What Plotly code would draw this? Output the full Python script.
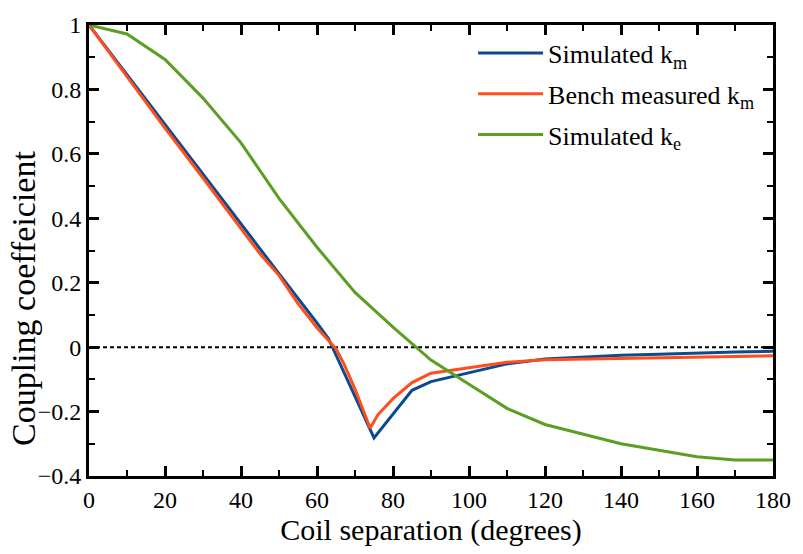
import plotly.graph_objects as go

# Simulated k_m
sim_km_x = [0, 10, 20, 30, 40, 50, 60, 63, 75, 85, 90, 100, 110, 120, 130, 140, 150, 160, 170, 180]
sim_km_y = [1.0, 0.845, 0.69, 0.535, 0.38, 0.228, 0.075, 0.027, -0.282, -0.134, -0.107, -0.08, -0.052,
            -0.037, -0.03, -0.025, -0.022, -0.018, -0.015, -0.013]

# Bench measured k_m
bench_km_x = [0, 10, 20, 30, 40, 45, 50, 55, 60, 65, 67, 70, 74, 76, 80, 85, 90, 100, 110, 120, 140, 160, 180]
bench_km_y = [1.0, 0.84, 0.68, 0.525, 0.37, 0.29, 0.223, 0.135, 0.06, -0.005, -0.05, -0.13, -0.252, -0.21,
              -0.16, -0.11, -0.081, -0.065, -0.047, -0.039, -0.035, -0.03, -0.027]

# Simulated k_e
sim_ke_x = [0, 10, 20, 30, 40, 50, 60, 70, 80, 90, 100, 110, 120, 130, 140, 150, 160, 170, 180]
sim_ke_y = [1.0, 0.972, 0.893, 0.773, 0.634, 0.462, 0.31, 0.17, 0.062, -0.04, -0.115, -0.19, -0.24,
            -0.27, -0.30, -0.32, -0.34, -0.35, -0.35]

names = ["Simulated k<sub>m</sub>", "Bench measured k<sub>m</sub>", "Simulated k<sub>e</sub>"]
colors = ["#0c4a8f", "#ff4d1c", "#5a9f24"]

x_title = "Coil separation (degrees)"
y_title = "Coupling coeffeicient"

FONT = "Liberation Serif"

fig = go.Figure()
for i, (xs, ys, nm, c) in enumerate(zip([sim_km_x, bench_km_x, sim_ke_x], [sim_km_y, bench_km_y, sim_ke_y], names, colors)):
    fig.add_trace(go.Scatter(x=xs, y=ys, mode="lines", name=nm, legendgroup=f"g{i}",
                             line=dict(color=c, width=3)))

fig.add_shape(type="line", xref="paper", x0=0, x1=1, yref="y", y0=0, y1=0,
              line=dict(color="black", width=2, dash="4px,3px"), layer="below")

axis_common = dict(
    showline=True, linecolor="black", linewidth=3, mirror="ticks",
    ticks="inside", ticklen=10, tickwidth=3, tickcolor="black",
    showgrid=False, zeroline=False,
    tickfont=dict(family=FONT, size=24, color="black"),
)

fig.update_xaxes(range=[0, 180], tick0=0, dtick=20,
                 minor=dict(ticks="inside", dtick=10, ticklen=6, tickwidth=2, tickcolor="black"),
                 title=dict(text=x_title, font=dict(family=FONT, size=30, color="black"), standoff=6),
                 **axis_common)
fig.update_yaxes(range=[-0.4, 1], tick0=-0.4, dtick=0.2,
                 minor=dict(ticks="inside", dtick=0.1, ticklen=6, tickwidth=2, tickcolor="black"),
                 **axis_common)

fig.add_annotation(text=y_title, xref="paper", yref="paper", x=-0.0955, y=0.394,
                   xanchor="center", yanchor="middle", textangle=-90, showarrow=False,
                   font=dict(family=FONT, size=34, color="black"))

fig.update_layout(
    width=803, height=554,
    margin=dict(l=89, r=23, t=14, b=78),
    paper_bgcolor="white", plot_bgcolor="white",
    showlegend=True,
    legend=dict(x=0.5615, y=0.99, xanchor="left", yanchor="top",
                font=dict(family=FONT, size=26, color="black"),
                bgcolor="rgba(0,0,0,0)", tracegroupgap=4, itemwidth=65),
)

fig.write_html("out.html")
